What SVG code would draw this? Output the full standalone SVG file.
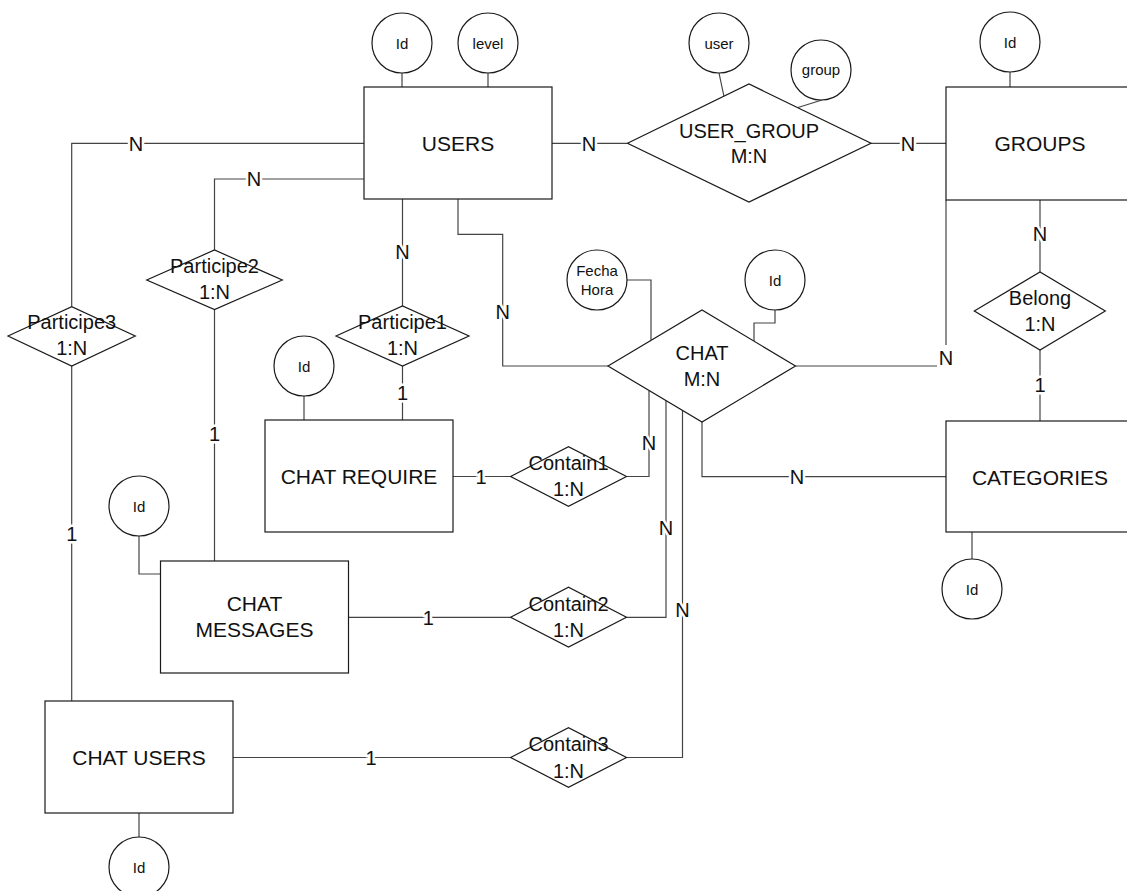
<svg xmlns="http://www.w3.org/2000/svg" width="1127" height="891" viewBox="0 0 1127 891">
<style>
  .ent { fill: #fff; stroke: #1a1a1a; stroke-width: 1.2; }
  .rel { fill: #fff; stroke: #1a1a1a; stroke-width: 1.2; }
  .att { fill: #fff; stroke: #1a1a1a; stroke-width: 1.2; }
  .con { fill: none; stroke: #444; stroke-width: 1.2; }
  text { font-family: "Liberation Sans", Arial, sans-serif; fill: #111; text-anchor: middle; }
  .et { font-size: 21px; }
  .rt { font-size: 20px; }
  .at { font-size: 15px; }
  .lbl { font-size: 20px; stroke: #fff; stroke-width: 5; paint-order: stroke; stroke-linejoin: round; }
</style>
<rect width="1127" height="891" fill="#fff"/>

<g id="connectors">
  <!-- attribute links -->
  <line class="con" x1="402" y1="73" x2="402" y2="87"/>
  <line class="con" x1="488" y1="73" x2="488" y2="87"/>
  <line class="con" x1="719" y1="73" x2="724" y2="96.5"/>
  <line class="con" x1="822" y1="100" x2="798" y2="107.5"/>
  <line class="con" x1="1010" y1="72" x2="1010" y2="87"/>
  <polyline class="con" points="627,280 651,280 651,340.5"/>
  <polyline class="con" points="775,310 775,323 754,323 754,341"/>
  <line class="con" x1="304" y1="396" x2="304" y2="420"/>
  <polyline class="con" points="139,536 139,574 160.5,574"/>
  <line class="con" x1="972" y1="532" x2="972" y2="559"/>
  <line class="con" x1="139" y1="813" x2="139" y2="837"/>
  <!-- relationship links -->
  <polyline class="con" points="364,143.3 71.7,143.3 71.7,306.7"/>
  <polyline class="con" points="364,179 214.5,179 214.5,250"/>
  <line class="con" x1="402.5" y1="199" x2="402.5" y2="306"/>
  <line class="con" x1="402.5" y1="366" x2="402.5" y2="420"/>
  <line class="con" x1="214.5" y1="309.5" x2="214.5" y2="561"/>
  <line class="con" x1="71.7" y1="366" x2="71.7" y2="701"/>
  <polyline class="con" points="458,199 458,234.3 502.7,234.3 502.7,366 608,366"/>
  <line class="con" x1="552" y1="143.3" x2="627.5" y2="143.3"/>
  <line class="con" x1="871" y1="143.3" x2="946" y2="143.3"/>
  <line class="con" x1="1040" y1="200" x2="1040" y2="272"/>
  <line class="con" x1="1040" y1="350" x2="1040" y2="421"/>
  <line class="con" x1="795.5" y1="366" x2="937" y2="366"/>
  <line class="con" x1="946" y1="345" x2="946" y2="200"/>
  <polyline class="con" points="702,422 702,476.7 946,476.7"/>
  <polyline class="con" points="626.5,476.5 649,476.5 649,390.4"/>
  <polyline class="con" points="626.5,617.3 666,617.3 666,400.6"/>
  <polyline class="con" points="626.5,757.5 682.5,757.5 682.5,410.4"/>
  <line class="con" x1="453" y1="476.5" x2="510.6" y2="476.5"/>
  <line class="con" x1="348.5" y1="617.3" x2="510.6" y2="617.3"/>
  <line class="con" x1="233" y1="757.5" x2="510.6" y2="757.5"/>
  <!-- cardinality labels -->
  <text class="lbl" x="136" y="150.5">N</text>
  <text class="lbl" x="254" y="186">N</text>
  <text class="lbl" x="402.5" y="259">N</text>
  <text class="lbl" x="402.5" y="400">1</text>
  <text class="lbl" x="214.5" y="441">1</text>
  <text class="lbl" x="71.7" y="541">1</text>
  <text class="lbl" x="502.7" y="319">N</text>
  <text class="lbl" x="589" y="150.5">N</text>
  <text class="lbl" x="908" y="150.5">N</text>
  <text class="lbl" x="1040" y="241">N</text>
  <text class="lbl" x="1040" y="392">1</text>
  <text class="lbl" x="946" y="365">N</text>
  <text class="lbl" x="797" y="484">N</text>
  <text class="lbl" x="649" y="450">N</text>
  <text class="lbl" x="666" y="535">N</text>
  <text class="lbl" x="682.5" y="617">N</text>
  <text class="lbl" x="481" y="483.5">1</text>
  <text class="lbl" x="428.4" y="624.5">1</text>
  <text class="lbl" x="371" y="764.5">1</text>
</g>

<g id="users">
  <rect class="ent" x="364" y="87" width="188" height="112"/>
  <text class="et" x="458" y="151">USERS</text>
</g>
<g id="users-id">
  <circle class="att" cx="402" cy="43" r="30"/>
  <text class="at" x="402" y="48.5">Id</text>
</g>
<g id="users-level">
  <circle class="att" cx="488" cy="43" r="30"/>
  <text class="at" x="488" y="48.5">level</text>
</g>

<g id="user_group">
  <polygon class="rel" points="627.5,143.3 749,84 871,143.3 749,202"/>
  <text class="rt" x="749" y="138">USER_GROUP</text>
  <text class="rt" x="749" y="163">M:N</text>
</g>
<g id="user_group-user">
  <circle class="att" cx="719" cy="43" r="30"/>
  <text class="at" x="719" y="48.5">user</text>
</g>
<g id="user_group-group">
  <circle class="att" cx="821" cy="70" r="30"/>
  <text class="at" x="821" y="74.5">group</text>
</g>

<g id="groups">
  <rect class="ent" x="946" y="87" width="188" height="113"/>
  <text class="et" x="1040" y="151">GROUPS</text>
</g>
<g id="groups-id">
  <circle class="att" cx="1010" cy="42" r="30"/>
  <text class="at" x="1010" y="47.5">Id</text>
</g>

<g id="belong">
  <polygon class="rel" points="974.3,311 1040,272 1105.3,311 1040,350"/>
  <text class="rt" x="1040" y="305">Belong</text>
  <text class="rt" x="1040" y="330.5">1:N</text>
</g>

<g id="categories">
  <rect class="ent" x="946" y="421" width="188" height="111"/>
  <text class="et" x="1040" y="484.5">CATEGORIES</text>
</g>
<g id="categories-id">
  <circle class="att" cx="972" cy="589" r="30"/>
  <text class="at" x="972" y="594.5">Id</text>
</g>

<g id="chat">
  <polygon class="rel" points="608,366 702,310 795.5,366 702,422"/>
  <text class="rt" x="702" y="360">CHAT</text>
  <text class="rt" x="702" y="386">M:N</text>
</g>
<g id="chat-fechahora">
  <circle class="att" cx="597" cy="280" r="30"/>
  <text class="at" x="597" y="276">Fecha</text>
  <text class="at" x="597" y="295">Hora</text>
</g>
<g id="chat-id">
  <circle class="att" cx="775" cy="280" r="30"/>
  <text class="at" x="775" y="285.5">Id</text>
</g>

<g id="participe1">
  <polygon class="rel" points="336,336 402.5,306 469,336 402.5,366"/>
  <text class="rt" x="402.5" y="329">Participe1</text>
  <text class="rt" x="402.5" y="355">1:N</text>
</g>
<g id="participe2">
  <polygon class="rel" points="146.7,280 214.5,250 282.3,280 214.5,309.5"/>
  <text class="rt" x="214.5" y="273">Participe2</text>
  <text class="rt" x="214.5" y="299">1:N</text>
</g>
<g id="participe3">
  <polygon class="rel" points="8,336 71.7,306.7 135.3,336 71.7,366"/>
  <text class="rt" x="71.7" y="329">Participe3</text>
  <text class="rt" x="71.7" y="355">1:N</text>
</g>

<g id="chat-require">
  <rect class="ent" x="265" y="420" width="188" height="112"/>
  <text class="et" x="359" y="483.5">CHAT REQUIRE</text>
</g>
<g id="chat-require-id">
  <circle class="att" cx="304" cy="366" r="30"/>
  <text class="at" x="304" y="371.5">Id</text>
</g>

<g id="chat-messages">
  <rect class="ent" x="160.5" y="561" width="188" height="112"/>
  <text class="et" x="254.5" y="611">CHAT</text>
  <text class="et" x="254.5" y="636.5">MESSAGES</text>
</g>
<g id="chat-messages-id">
  <circle class="att" cx="139" cy="506" r="30"/>
  <text class="at" x="139" y="511.5">Id</text>
</g>

<g id="chat-users">
  <rect class="ent" x="45" y="701" width="188" height="112"/>
  <text class="et" x="139" y="764.5">CHAT USERS</text>
</g>
<g id="chat-users-id">
  <circle class="att" cx="139" cy="867" r="30"/>
  <text class="at" x="139" y="872.5">Id</text>
</g>

<g id="contain1">
  <polygon class="rel" points="510.6,476.5 568.5,446.7 626.5,476.5 568.5,506.3"/>
  <text class="rt" x="568.5" y="469.5">Contain1</text>
  <text class="rt" x="568.5" y="496">1:N</text>
</g>
<g id="contain2">
  <polygon class="rel" points="510.6,617.3 568.5,587.3 626.5,617.3 568.5,647"/>
  <text class="rt" x="568.5" y="611">Contain2</text>
  <text class="rt" x="568.5" y="636.5">1:N</text>
</g>
<g id="contain3">
  <polygon class="rel" points="510.6,757.5 568.5,727.7 626.5,757.5 568.5,787.3"/>
  <text class="rt" x="568.5" y="751">Contain3</text>
  <text class="rt" x="568.5" y="778">1:N</text>
</g>
</svg>
